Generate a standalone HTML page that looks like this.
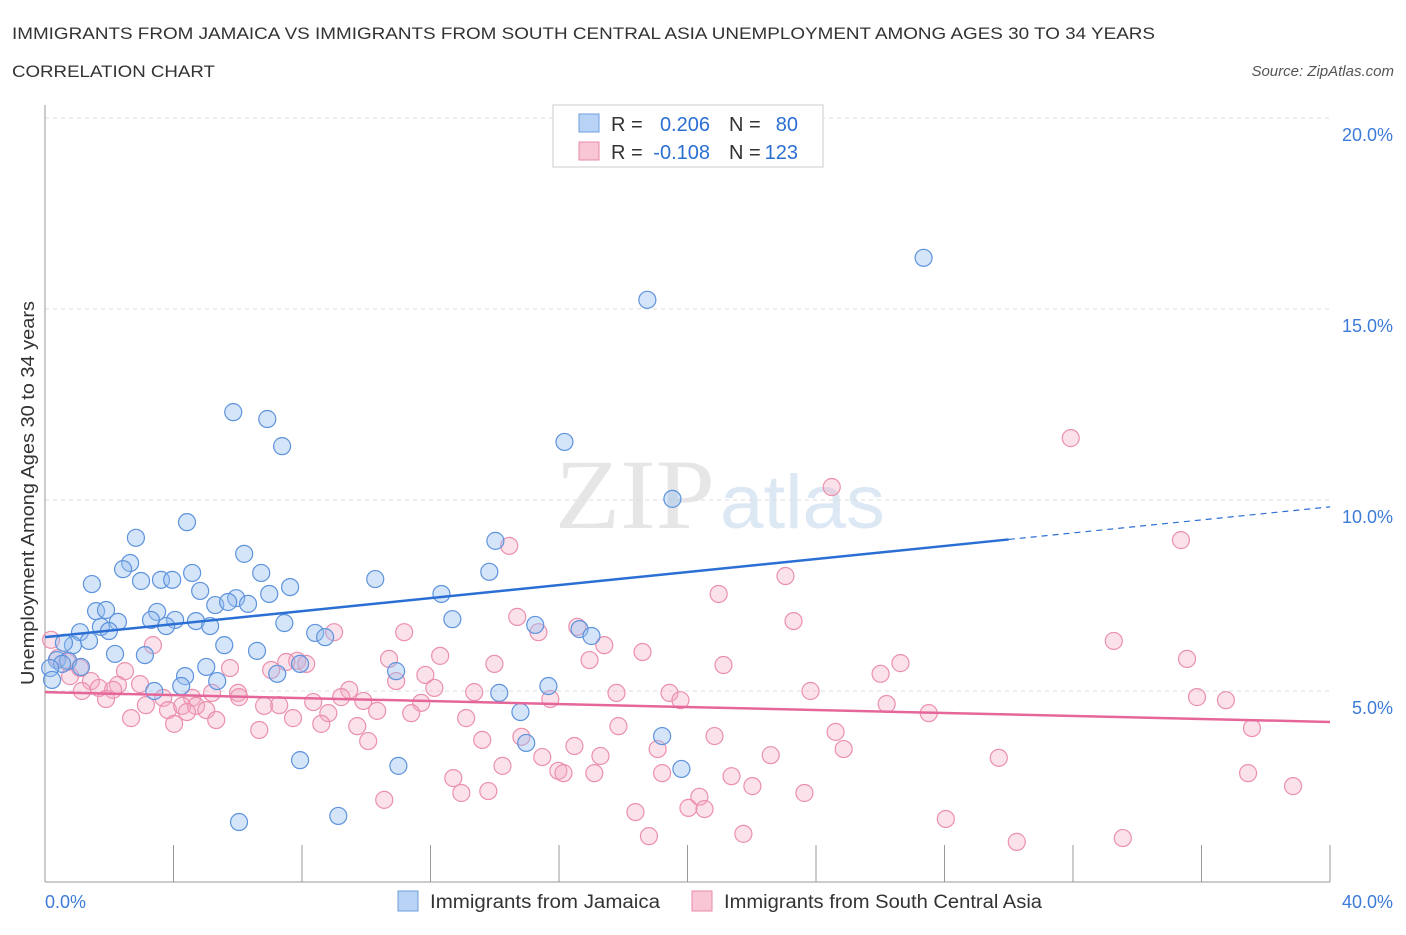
<!DOCTYPE html>
<html><head><meta charset="utf-8"><style>
body{margin:0;background:#fff;font-family:"Liberation Sans",sans-serif;}
</style></head><body>
<svg id="c" width="1406" height="930" xmlns="http://www.w3.org/2000/svg">
<text x="12" y="39" font-size="17" fill="#333" textLength="1143" lengthAdjust="spacingAndGlyphs">IMMIGRANTS FROM JAMAICA VS IMMIGRANTS FROM SOUTH CENTRAL ASIA UNEMPLOYMENT AMONG AGES 30 TO 34 YEARS</text>
<text x="12" y="77" font-size="17" fill="#333" textLength="203" lengthAdjust="spacingAndGlyphs">CORRELATION CHART</text>
<text x="1394" y="76" font-size="15" fill="#555" font-style="italic" text-anchor="end">Source: ZipAtlas.com</text>
<text x="555" y="528" font-size="100" fill="#e6e6e6" font-family="Liberation Serif" textLength="160" lengthAdjust="spacingAndGlyphs">ZIP</text>
<text x="720" y="528" font-size="76" fill="#dde8f5" textLength="165" lengthAdjust="spacingAndGlyphs">atlas</text>
<g id="grid"></g>
<g id="pts"></g>
<g id="lines"></g>
<text transform="translate(34,493) rotate(-90)" font-size="18" fill="#333" text-anchor="middle" textLength="384" lengthAdjust="spacingAndGlyphs">Unemployment Among Ages 30 to 34 years</text>
<g>
<rect x="553" y="105" width="270" height="62" fill="#fff" stroke="#ccc"/>
<rect x="579" y="114" width="20" height="18" fill="#b8d3f5" stroke="#6c9fe0"/>
<text x="611" y="131" font-size="20" fill="#333">R =</text>
<text x="710" y="131" font-size="20" fill="#2b6fd4" text-anchor="end">0.206</text>
<text x="729" y="131" font-size="20" fill="#333">N =</text>
<text x="798" y="131" font-size="20" fill="#2b6fd4" text-anchor="end">80</text>
<rect x="579" y="142" width="20" height="18" fill="#f8c6d5" stroke="#e88aa8"/>
<text x="611" y="159" font-size="20" fill="#333">R =</text>
<text x="710" y="159" font-size="20" fill="#2b6fd4" text-anchor="end">-0.108</text>
<text x="729" y="159" font-size="20" fill="#333">N =</text>
<text x="798" y="159" font-size="20" fill="#2b6fd4" text-anchor="end">123</text>
</g>
<g>
<rect x="398" y="891" width="20" height="20" fill="#b8d3f5" stroke="#6c9fe0"/>
<text x="430" y="908" font-size="19" fill="#333" textLength="230" lengthAdjust="spacingAndGlyphs">Immigrants from Jamaica</text>
<rect x="692" y="891" width="20" height="20" fill="#f8c6d5" stroke="#e88aa8"/>
<text x="724" y="908" font-size="19" fill="#333" textLength="318" lengthAdjust="spacingAndGlyphs">Immigrants from South Central Asia</text>
</g>
</svg>
<script>
const yTicks=[5,10,15,20];
const yTickLabels=["5.0%","10.0%","15.0%","20.0%"];
const xTickLabels=["0.0%","40.0%"];
const blueX=[27.35,18.75,5.86,6.92,7.38,16.17,19.53,4.42,2.83,14.02,6.20,2.65,2.43,6.73,4.58,13.83,10.28,1.46,2.99,3.61,3.96,7.63,4.83,6.98,12.34,5.95,5.30,5.70,6.32,1.59,1.90,3.49,2.27,3.30,4.05,4.70,5.14,3.77,12.68,7.45,1.74,1.99,1.09,15.26,8.41,8.72,16.64,17.01,1.37,0.87,0.59,5.58,2.18,3.11,6.60,0.37,0.72,1.12,0.53,0.16,7.94,10.93,5.02,4.36,7.23,5.36,0.22,4.24,3.40,15.67,14.14,14.80,19.21,14.98,19.81,7.94,11.00,6.04,9.13];
const blueY=[16.34,15.24,12.30,12.12,11.41,11.52,10.03,9.42,9.01,8.93,8.59,8.35,8.19,8.09,8.09,8.12,7.93,7.80,7.88,7.91,7.91,7.72,7.62,7.54,7.54,7.43,7.25,7.33,7.28,7.09,7.12,7.07,6.81,6.86,6.86,6.83,6.70,6.70,6.88,6.78,6.68,6.57,6.54,6.73,6.52,6.41,6.62,6.44,6.31,6.20,6.26,6.20,5.97,5.94,6.05,5.81,5.79,5.63,5.71,5.60,5.71,5.52,5.63,5.39,5.45,5.26,5.29,5.13,5.00,5.13,4.95,4.45,3.82,3.64,2.96,3.19,3.04,1.57,1.73];
const pinkX=[31.93,24.49,14.45,35.36,23.05,20.97,14.70,23.30,11.18,9.00,15.36,16.57,17.41,33.27,3.36,0.19,18.60,12.30,16.95,10.71,7.85,8.13,7.51,35.55,13.99,21.12,26.63,0.69,0.40,1.09,2.49,5.76,7.04,26.01,11.84,10.93,1.43,2.27,1.68,2.96,0.78,9.47,12.12,13.36,17.79,19.44,23.83,35.86,36.76,1.15,2.12,1.90,6.01,6.04,5.20,4.58,3.68,9.22,9.91,8.35,11.71,15.73,19.78,26.20,3.14,3.83,4.27,4.70,5.02,6.82,7.29,4.42,10.34,11.40,8.82,2.68,5.33,4.02,7.72,8.60,13.11,27.51,17.85,9.72,6.67,24.61,37.57,10.06,13.61,14.83,20.84,19.07,16.48,24.86,22.59,15.48,17.29,29.69,14.24,15.98,16.14,17.10,19.21,21.37,37.45,12.71,22.02,38.85,12.96,13.80,20.37,23.64,10.56,20.03,20.53,18.38,28.04,18.80,21.74,30.25,33.55];
const pinkY=[11.62,10.34,8.80,8.95,8.01,7.54,6.94,6.83,6.54,6.54,6.54,6.68,6.20,6.31,6.20,6.34,6.02,5.92,5.81,5.84,5.79,5.71,5.76,5.84,5.71,5.68,5.73,5.76,5.86,5.60,5.52,5.60,5.55,5.45,5.42,5.26,5.26,5.16,5.08,5.18,5.39,5.03,5.08,4.97,4.95,4.95,5.00,4.84,4.76,5.00,5.03,4.79,4.95,4.84,4.95,4.82,4.82,4.84,4.74,4.71,4.69,4.79,4.76,4.66,4.63,4.50,4.61,4.61,4.50,4.61,4.63,4.45,4.48,4.42,4.42,4.29,4.24,4.14,4.29,4.14,4.29,4.42,4.08,4.08,3.98,3.93,4.03,3.69,3.72,3.80,3.82,3.48,3.56,3.48,3.32,3.27,3.30,3.25,3.04,2.91,2.85,2.85,2.85,2.77,2.85,2.72,2.51,2.51,2.33,2.38,2.23,2.33,2.15,1.94,1.91,1.83,1.65,1.20,1.26,1.05,1.15];
const blueTrend=[6.41,9.82];
const pinkTrend=[4.97,4.19];
const NS="http://www.w3.org/2000/svg";
const X=v=>45+v*32.125, Y=v=>882-v*38.2;
function mk(tag,attrs,parent){const e=document.createElementNS(NS,tag);for(const k in attrs)e.setAttribute(k,attrs[k]);document.getElementById(parent).appendChild(e);return e;}
yTicks.forEach((t,i)=>{
 const l=mk('line',{x1:45,x2:1330,y1:Y(t),y2:Y(t),stroke:'#ddd','stroke-dasharray':'4,4'},'grid');
 
 
 const tx=mk('text',{x:1393,y:Y(t)+23,'font-size':18,fill:'#3d7bd8','text-anchor':'end'},'grid');
 tx.textContent=yTickLabels[i];
 
 
});
const ax=mk('line',{x1:45,x2:45,y1:105,y2:882,stroke:'#999'},'grid');


const bx=mk('line',{x1:45,x2:1330,y1:882,y2:882,stroke:'#999'},'grid');


for(let i=0;i<=10;i++){const t=mk('line',{x1:X(i*4),x2:X(i*4),y1:845,y2:882,stroke:'#999'},'grid');
 
 }
[[0,'start',45],[40,'end',1393]].forEach((d,i)=>{const t=mk('text',{x:d[2],y:908,'font-size':18,fill:'#3d7bd8','text-anchor':d[1]},'grid');t.textContent=xTickLabels[i];
 
 });
pinkX.forEach((x,i)=>{const c=mk('circle',{cx:X(x),cy:Y(pinkY[i]),r:8.5,fill:'rgba(244,170,195,0.35)',stroke:'#eb90ae','stroke-width':1.2},'pts');
 
 });
blueX.forEach((x,i)=>{const c=mk('circle',{cx:X(x),cy:Y(blueY[i]),r:8.5,fill:'rgba(150,190,240,0.4)',stroke:'#5d93dc','stroke-width':1.2},'pts');
 
 });
const bs=(blueTrend[1]-blueTrend[0])/40, xe=30;
let l1=mk('line',{x1:X(0),y1:Y(blueTrend[0]),x2:X(xe),y2:Y(blueTrend[0]+bs*xe),stroke:'#2b6fd4','stroke-width':2.5},'lines');


let l2=mk('line',{x1:X(xe),y1:Y(blueTrend[0]+bs*xe),x2:X(40),y2:Y(blueTrend[1]),stroke:'#2b6fd4','stroke-width':1.2,'stroke-dasharray':'6,5'},'lines');


let l3=mk('line',{x1:X(0),y1:Y(pinkTrend[0]),x2:X(40),y2:Y(pinkTrend[1]),stroke:'#e5679a','stroke-width':2.5},'lines');


</script>
</body></html>
